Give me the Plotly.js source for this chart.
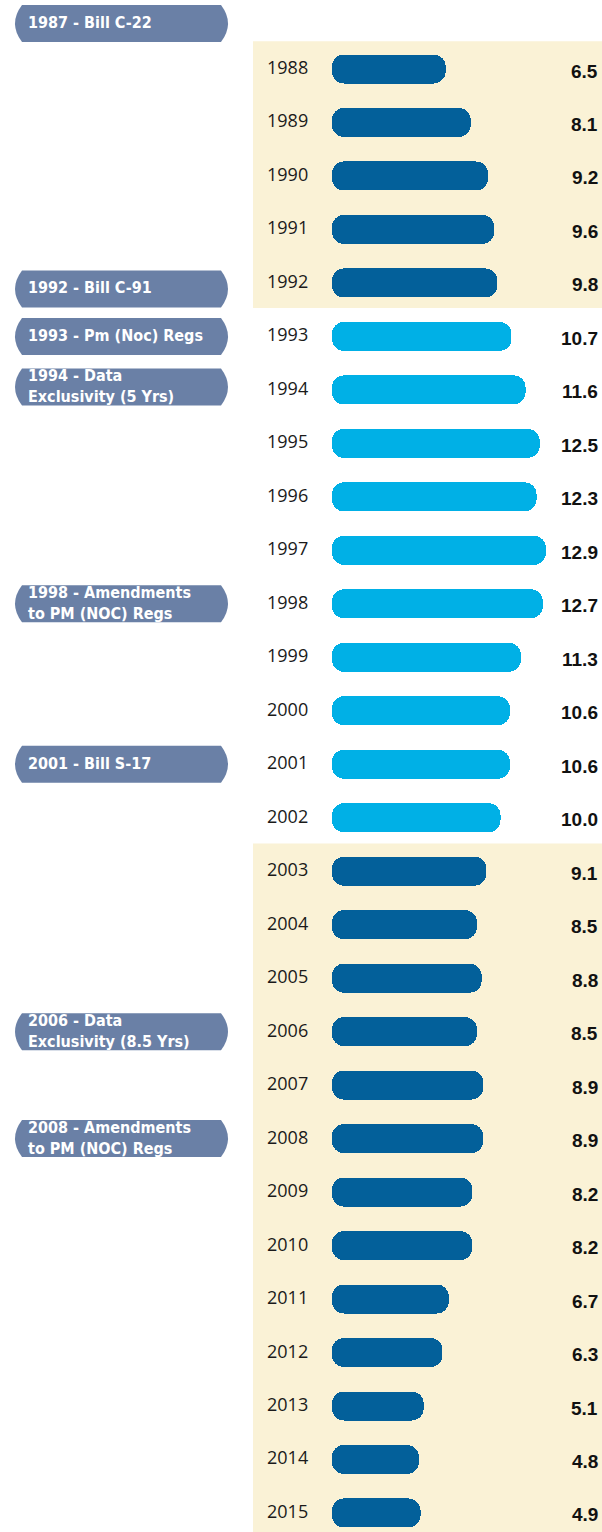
<!DOCTYPE html>
<html>
<head>
<meta charset="utf-8">
<script src="https://cdn.plot.ly/plotly-3.0.1.min.js"></script>
<style>html,body{margin:0;padding:0;background:#fff;}#chart{width:602px;height:1532px;}</style>
</head>
<body>
<div id="chart"></div>
<script>
// ---- data ----
const years = [1988,1989,1990,1991,1992,1993,1994,1995,1996,1997,1998,1999,2000,2001,2002,2003,2004,2005,2006,2007,2008,2009,2010,2011,2012,2013,2014,2015];
const values = [6.5,8.1,9.2,9.6,9.8,10.7,11.6,12.5,12.3,12.9,12.7,11.3,10.6,10.6,10.0,9.1,8.5,8.8,8.5,8.9,8.9,8.2,8.2,6.7,6.3,5.1,4.8,4.9];
const highlightPeriods = [[1988,1992],[2003,2015]];   // shaded periods (dark bars)
const eventYears = [1987,1992,1993,1994,1998,2001,2006,2008];
const eventLabels = [
  "1987 - Bill C-22",
  "1992 - Bill C-91",
  "1993 - Pm (Noc) Regs",
  "1994 - Data<br>Exclusivity (5 Yrs)",
  "1998 - Amendments<br>to PM (NOC) Regs",
  "2001 - Bill S-17",
  "2006 - Data<br>Exclusivity (8.5 Yrs)",
  "2008 - Amendments<br>to PM (NOC) Regs"
];

// ---- style / layout constants ----
const W = 602, H = 1532;
const DARK = "#03609A", LIGHT = "#00B0E6", PILL = "#6A80A6", BEIGE = "#FAF2D6";
const pxPerYear = 53.48, firstRowPx = 69;            // vertical geometry
const pxPerUnit = 15.68, zeroPx = 343.7;             // horizontal geometry
const barBase = -0.75;                               // rounded-cap allowance
const pillNudgePx = [8,6,0,-3,0,0,0,0];
const pillL = 15, pillR = 228, pillHalf = 18.5, pillBulge = 7;

const yTop = years[0] - firstRowPx / pxPerYear;
const yBot = yTop + H / pxPerYear;
const xMin = -zeroPx / pxPerUnit, xMax = xMin + W / pxPerUnit;

const inHighlight = y => highlightPeriods.some(p => y >= p[0] && y <= p[1]);
const colors = years.map(y => inHighlight(y) ? DARK : LIGHT);

const trace = {
  type: "bar", orientation: "h",
  y: years, x: values.map(v => v - barBase), base: barBase,
  width: 29 / pxPerYear,
  marker: {color: colors, cornerradius: 12, line: {width: 0}},
  hoverinfo: "skip"
};

const shapes = [];
highlightPeriods.forEach(p => {
  shapes.push({type: "rect", xref: "paper", yref: "y", x0: 253 / W, x1: 1,
    y0: p[0] - 0.52, y1: Math.min(p[1] + 0.47, yBot), fillcolor: BEIGE, line: {width: 0}, layer: "below"});
});

const annotations = [];
const yearFont = {family: "Open Sans, Noto Sans, sans-serif", size: 18, color: "#1a1a1a"};
const valFont = {family: "Liberation Sans, Arial, sans-serif", size: 19, color: "#111", weight: "bold"};
years.forEach((y, i) => {
  annotations.push({xref: "paper", yref: "y", x: 265 / W, y: y, text: String(y), showarrow: false,
    xanchor: "left", yanchor: "middle", yshift: 2, font: yearFont});
  annotations.push({xref: "paper", yref: "y", x: 600 / W, y: y, text: values[i].toFixed(1), showarrow: false,
    xanchor: "right", yanchor: "middle", yshift: -2, font: valFont});
});

const pillFont = {family: "DejaVu Sans Condensed, sans-serif", size: 16, color: "#fff", weight: "bold"};
eventYears.forEach((ey, i) => {
  const c = ey + pillNudgePx[i] / pxPerYear;
  const h = pillHalf / pxPerYear;
  const t = c - h, b = c + h;
  const L = pillL / W, R = pillR / W, s = pillBulge / W;
  shapes.push({type: "path", xref: "paper", yref: "y", fillcolor: PILL, line: {width: 0}, layer: "above",
    path: `M ${L + s},${t} L ${R - s},${t} Q ${R + s},${c} ${R - s},${b} L ${L + s},${b} Q ${L - s},${c} ${L + s},${t} Z`});
  annotations.push({xref: "paper", yref: "y", x: 26 / W, y: c, text: eventLabels[i], showarrow: false,
    xanchor: "left", yanchor: "middle", align: "left", yshift: 1, font: pillFont});
});

const layout = {
  width: W, height: H, autosize: false,
  margin: {l: 0, r: 0, t: 0, b: 0, pad: 0},
  paper_bgcolor: "#fff", plot_bgcolor: "rgba(0,0,0,0)",
  showlegend: false, bargap: 0,
  xaxis: {range: [xMin, xMax], visible: false, fixedrange: true},
  yaxis: {range: [yBot, yTop], visible: false, fixedrange: true},
  shapes: shapes, annotations: annotations
};

Plotly.newPlot("chart", [trace], layout, {displayModeBar: false, staticPlot: true});
</script>
</body>
</html>
